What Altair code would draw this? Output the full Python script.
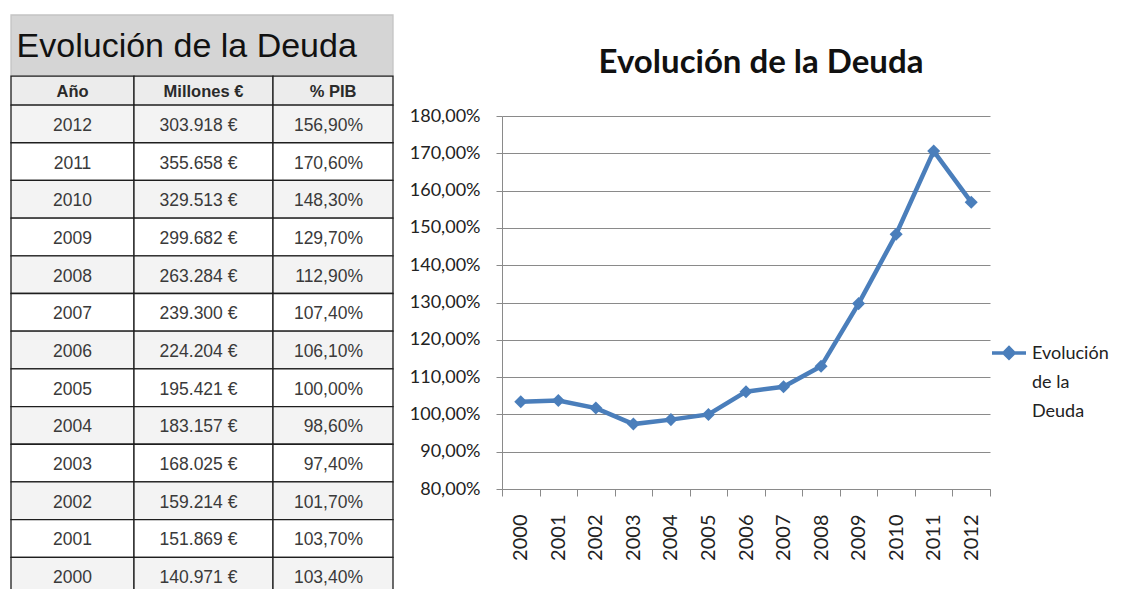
import altair as alt
import pandas as pd

# ---------------- data ----------------
years = [2012, 2011, 2010, 2009, 2008, 2007, 2006, 2005, 2004, 2003, 2002, 2001, 2000]
millones = [303918, 355658, 329513, 299682, 263284, 239300, 224204, 195421,
            183157, 168025, 159214, 151869, 140971]
pib = [156.9, 170.6, 148.3, 129.7, 112.9, 107.4, 106.1, 100.0, 98.6, 97.4,
       101.7, 103.7, 103.4]
headers = ["Año", "Millones €", "% PIB"]
table_title = "Evolución de la Deuda"
chart_title = "Evolución de la Deuda"
series_name = "Evolución de la Deuda"
legend_lines = ["Evolución", "de la", "Deuda"]
y_ticks = [80, 90, 100, 110, 120, 130, 140, 150, 160, 170, 180]

BLUE = "#4a7ebb"
GRID = "#8a8a8a"


def fmt_eur(v):
    return f"{v:,}".replace(",", ".") + " €"


def fmt_pct(v):
    return f"{v:.2f}".replace(".", ",") + "%"


# ---------------- table layout ----------------
# rows in row units; the view's origin sits a little inside the first data row so
# that it lines up with the top of the line chart's plot area
col_edges = [0, 123, 262, 382]
TABLE_W = col_edges[-1]
ROW_PX = 37.7
title_top, header_top = -2.39, -0.77
n = len(years)
view_top = 0.29
TABLE_H = round((n - view_top) * ROW_PX)

cells = []
cells.append(dict(x0=col_edges[0], x1=col_edges[-1], y0=title_top, y1=header_top,
                  fill="#d5d5d5", stroke="#c4c4c4"))
for c in range(3):
    cells.append(dict(x0=col_edges[c], x1=col_edges[c + 1], y0=header_top, y1=0,
                      fill="#ececec", stroke="#1e1e1e"))
for i in range(n):
    fill = "#f3f3f3" if i % 2 == 0 else "#ffffff"
    for c in range(3):
        cells.append(dict(x0=col_edges[c], x1=col_edges[c + 1], y0=i, y1=i + 1,
                          fill=fill, stroke="#1e1e1e"))
cells_df = pd.DataFrame(cells)

xs = alt.Scale(domain=[0, TABLE_W], nice=False, zero=False)
ys = alt.Scale(domain=[view_top, n], nice=False, zero=False, reverse=True)

rects = alt.Chart(cells_df).mark_rect(strokeWidth=1.3).encode(
    x=alt.X("x0:Q", scale=xs, axis=None),
    x2="x1:Q",
    y=alt.Y("y0:Q", scale=ys, axis=None),
    y2="y1:Q",
    fill=alt.Fill("fill:N", scale=None),
    stroke=alt.Stroke("stroke:N", scale=None),
)

center_txt = []
right_txt = []
header_txt = []
for c, h in enumerate(headers):
    header_txt.append(dict(x=(col_edges[c] + col_edges[c + 1]) / 2, y=header_top / 2, t=h))
for i in range(n):
    center_txt.append(dict(x=(col_edges[0] + col_edges[1]) / 2, y=i + 0.5, t=str(years[i])))
    center_txt.append(dict(x=(col_edges[1] + col_edges[2]) / 2 - 5, y=i + 0.5, t=fmt_eur(millones[i])))
    right_txt.append(dict(x=col_edges[3] - 30, y=i + 0.5, t=fmt_pct(pib[i])))

TFONT = "Liberation Sans, Arial"

t_center = alt.Chart(pd.DataFrame(center_txt)).mark_text(
    font=TFONT, fontSize=17.5, color="#3a3a3a", align="center", baseline="middle", dy=2
).encode(x=alt.X("x:Q", scale=xs), y=alt.Y("y:Q", scale=ys), text="t:N")

t_right = alt.Chart(pd.DataFrame(right_txt)).mark_text(
    font=TFONT, fontSize=17.5, color="#3a3a3a", align="right", baseline="middle", dy=2
).encode(x=alt.X("x:Q", scale=xs), y=alt.Y("y:Q", scale=ys), text="t:N")

t_head = alt.Chart(pd.DataFrame(header_txt)).mark_text(
    font=TFONT, fontSize=16.5, fontWeight="bold", color="#2a2a2a", align="center",
    baseline="middle", dy=1
).encode(x=alt.X("x:Q", scale=xs), y=alt.Y("y:Q", scale=ys), text="t:N")

t_title = alt.Chart(pd.DataFrame([dict(x=TABLE_W * 0.46, y=(title_top + header_top) / 2,
                                       t=table_title)])).mark_text(
    font=TFONT, fontSize=34, color="#111111", align="center",
    baseline="middle", dy=1
).encode(x=alt.X("x:Q", scale=xs), y=alt.Y("y:Q", scale=ys), text="t:N")

table = alt.layer(rects, t_center, t_right, t_head, t_title).properties(
    width=TABLE_W, height=TABLE_H
)

# ---------------- line chart ----------------
line_df = pd.DataFrame({"Año": [str(y) for y in years], "pib": pib, "serie": series_name})

legend_kwargs = dict(
    title=None, orient="none", legendX=979, legendY=224, padding=0,
    symbolType="M-1,-0.36L1,-0.36M0,-0.66L0.3,-0.36L0,-0.06L-0.3,-0.36Z",
    symbolSize=1156, symbolStrokeWidth=3.5, symbolFillColor=BLUE,
    symbolStrokeColor=BLUE, labelFont="Lato", labelFontSize=18, labelColor="#222222",
    labelLimit=200, labelOffset=4, labelBaseline="alphabetic",
    labelExpr="[" + ", ".join(f"'{s}'" for s in legend_lines) + "]",
)

base = alt.Chart(line_df).encode(
    x=alt.X("Año:O", sort="ascending", bandPosition=0.5,
            scale=alt.Scale(type="band", paddingInner=0, paddingOuter=0),
            axis=alt.Axis(title=None, labelAngle=-90, labelFont="Lato", labelFontSize=20,
                          labelColor="#222222", tickBand="extent", tickSize=7,
                          tickColor=GRID, domainColor=GRID, labelPadding=18,
                          grid=False, labelBaseline="middle")),
    y=alt.Y("pib:Q", scale=alt.Scale(domain=[80, 180], nice=False, zero=False),
            axis=alt.Axis(title=None, values=y_ticks, labelFont="Lato", labelFontSize=18,
                          labelColor="#222222", tickSize=6, tickColor=GRID,
                          domainColor=GRID, gridColor=GRID, gridWidth=1,
                          labelPadding=16,
                          labelExpr="replace(format(datum.value, '.2f'), '.', ',') + '%'")),
)

line = base.mark_line(strokeWidth=4.5).encode(
    color=alt.Color("serie:N", scale=alt.Scale(range=[BLUE]),
                    legend=alt.Legend(**legend_kwargs))
)
points = base.mark_point(shape="diamond", filled=True, size=170, opacity=1, color=BLUE)

chart = alt.layer(line, points).properties(
    width=488, height=373,
    title=alt.TitleParams(text=chart_title, font="Lato", fontSize=33,
                          fontWeight="bold", color="#111111",
                          anchor="middle", frame="group", dx=15, offset=27),
)

final = (
    alt.hconcat(table, chart, spacing=15)
    .properties(padding={"left": 2, "top": 6, "right": 0, "bottom": 0}, background="white")
    .configure(style={"guide-label": {"lineHeight": 29}})
    .configure_view(stroke=None)
)

final.save("out.html", embed_options={"renderer": "svg", "actions": False})
